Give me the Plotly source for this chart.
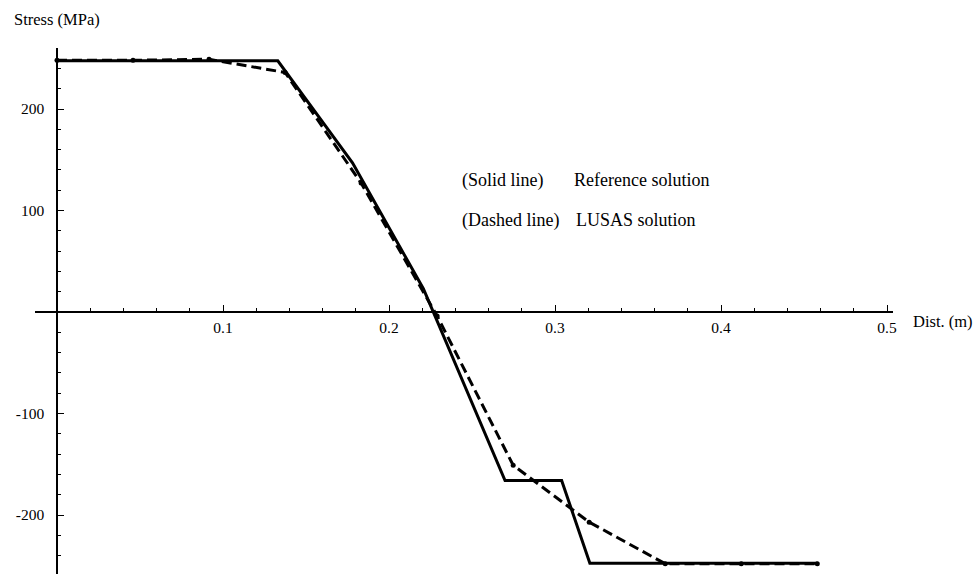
import plotly.graph_objects as go

# Reference solution (solid line)
ref_x = [0.0, 0.133, 0.178, 0.2207, 0.2699, 0.304, 0.321, 0.458]
ref_y = [247.5, 247.5, 147.0, 23.0, -166.0, -166.0, -247.5, -247.5]

# LUSAS solution (dashed line), nodal values
lusas_x = [0.0, 0.0458, 0.0916, 0.1374, 0.1832, 0.229, 0.2748, 0.3206, 0.3664, 0.4122, 0.458]
lusas_y = [248.0, 248.0, 249.0, 236.0, 127.0, -4.0, -151.0, -207.0, -248.0, -248.0, -248.0]

x_ticks = [0.1, 0.2, 0.3, 0.4, 0.5]
x_tick_text = ["0.1", "0.2", "0.3", "0.4", "0.5"]
y_ticks = [-200, -100, 100, 200]
y_tick_text = ["-200", "-100", "100", "200"]
x_minor = [round(0.02 * i, 2) for i in range(1, 26)]
y_minor = [20 * i for i in range(-12, 13) if i != 0]

FONT = "Liberation Serif, Times New Roman, serif"
W, H = 980, 575
L, R, T, B = 35, 87, 48, 1
PW, PH = W - L - R, H - T - B

x_range = [-0.01325, 0.5036]
y_range = [-258.1, 260.1]
x_axis_pos = (0 - y_range[0]) / (y_range[1] - y_range[0])
y_axis_pos = (0 - x_range[0]) / (x_range[1] - x_range[0])


def px(x):
    return (x - L) / PW


def py(y):
    return (H - B - y) / PH


fig = go.Figure()
fig.add_trace(go.Scatter(x=ref_x, y=ref_y, mode="lines",
                         line=dict(color="black", width=3), showlegend=False))
fig.add_trace(go.Scatter(x=lusas_x, y=lusas_y, mode="lines+markers",
                         line=dict(color="black", width=3, dash="10px,5px"),
                         marker=dict(color="black", size=5), showlegend=False))

axis_common = dict(showgrid=False, zeroline=False, showline=True, linecolor="black",
                   linewidth=1.5, ticks="inside", tickcolor="black", tickwidth=1.2,
                   tickmode="array", tickfont=dict(family=FONT, size=15.5, color="black"))

fig.update_layout(
    width=W, height=H,
    margin=dict(l=L, r=R, t=T, b=B),
    paper_bgcolor="white", plot_bgcolor="white",
    xaxis=dict(range=x_range, anchor="free", position=x_axis_pos,
               tickvals=x_ticks, ticktext=x_tick_text, ticklen=6,
               ticklabelstandoff=2,
               minor=dict(tickvals=x_minor, ticks="inside", ticklen=3,
                          tickcolor="black", tickwidth=1),
               **axis_common),
    yaxis=dict(range=y_range, anchor="free", position=y_axis_pos,
               tickvals=y_ticks, ticktext=y_tick_text, ticklen=6,
               ticklabelstandoff=9,
               minor=dict(tickvals=y_minor, ticks="inside", ticklen=3,
                          tickcolor="black", tickwidth=1),
               **axis_common),
    font=dict(family=FONT, color="black"),
)

ann = [
    ("Stress (MPa)", 12, 20, 16.5),
    ("Dist. (m)", 911, 321, 16.5),
    ("(Solid line)", 460, 180, 18),
    ("Reference solution", 572, 180, 18),
    ("(Dashed line)", 460, 220, 18),
    ("LUSAS solution", 574, 220, 18),
]
for text, x, y, s in ann:
    fig.add_annotation(text=text, xref="paper", yref="paper", x=px(x), y=py(y),
                       xanchor="left", yanchor="middle", showarrow=False,
                       font=dict(family=FONT, size=s, color="black"))

fig.write_html("out.html")
